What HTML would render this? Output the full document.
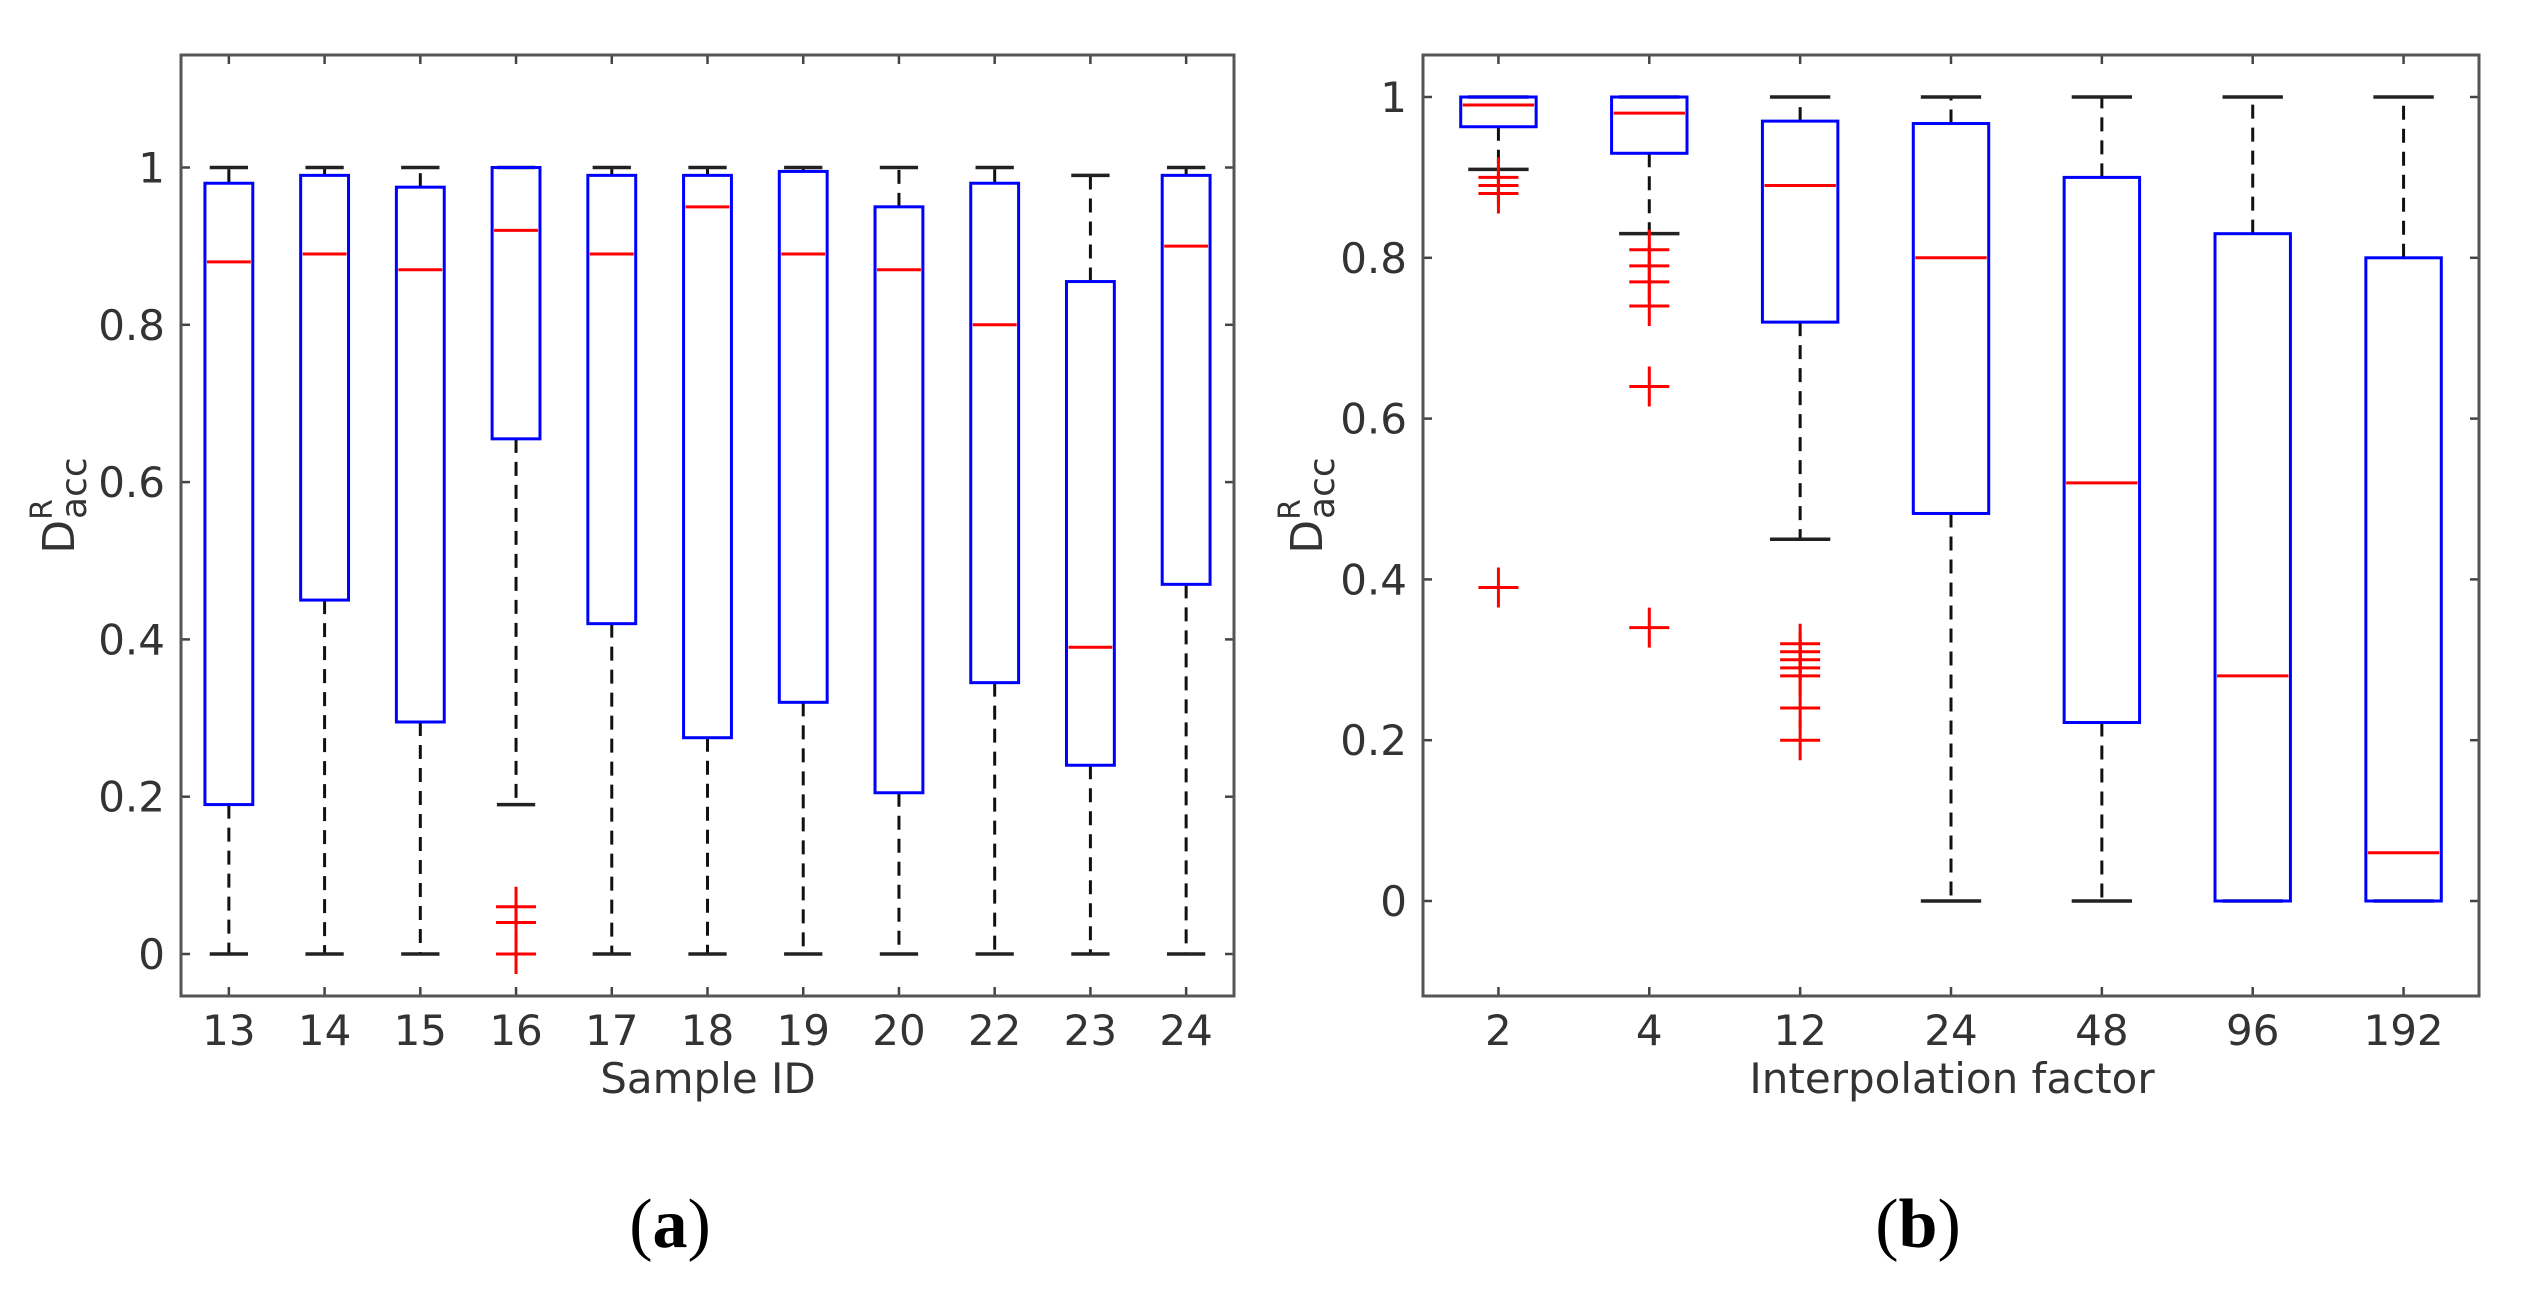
<!DOCTYPE html>
<html><head><meta charset="utf-8"><style>
html,body{margin:0;padding:0;background:#fff;}
svg{display:block;}
text{font-family:"DejaVu Sans","Liberation Sans",sans-serif;fill:#333;}
</style></head><body>
<svg id="fig" width="2524" height="1300" viewBox="0 0 2524 1300" xmlns="http://www.w3.org/2000/svg"></svg>
<script>
// ---- Panel (a) data ----
const catsA = ["13","14","15","16","17","18","19","20","22","23","24"];
const q1A   = [0.19,0.45,0.295,0.655,0.42,0.275,0.32,0.205,0.345,0.24,0.47];
const medA  = [0.88,0.89,0.87,0.92,0.89,0.95,0.89,0.87,0.80,0.39,0.90];
const q3A   = [0.98,0.99,0.975,1.0,0.99,0.99,0.995,0.95,0.98,0.855,0.99];
const loA   = [0,0,0,0.19,0,0,0,0,0,0,0];
const hiA   = [1,1,1,1,1,1,1,1,1,0.99,1];
const outA  = [[],[],[],[0.06,0.04,0],[],[],[],[],[],[],[]];
const yTicksA = [0,0.2,0.4,0.6,0.8,1];
const yTickLabelsA = ["0","0.2","0.4","0.6","0.8","1"];

// ---- Panel (b) data ----
const catsB = ["2","4","12","24","48","96","192"];
const q1B   = [0.963,0.93,0.72,0.482,0.222,0,0];
const medB  = [0.99,0.98,0.89,0.80,0.52,0.28,0.06];
const q3B   = [1.0,1.0,0.97,0.967,0.90,0.83,0.80];
const loB   = [0.91,0.83,0.45,0,0,0,0];
const hiB   = [1,1,1,1,1,1,1];
const outB  = [[0.90,0.89,0.88,0.39],[0.81,0.79,0.77,0.74,0.64,0.34],[0.32,0.31,0.30,0.29,0.28,0.24,0.20],[],[],[],[]];
const yTicksB = [0,0.2,0.4,0.6,0.8,1];
const yTickLabelsB = ["0","0.2","0.4","0.6","0.8","1"];

const NS="http://www.w3.org/2000/svg";
const svg=document.getElementById('fig');
function mk(tag,attrs,parent){const e=document.createElementNS(NS,tag);for(const k in attrs)e.setAttribute(k,attrs[k]);(parent||svg).appendChild(e);return e;}

function panel(cfg){
  const g=mk('g',{});
  
  
  const L=cfg.L,R=cfg.R,T=cfg.T,B=cfg.B;
  const n=cfg.cats.length, step=(R-L)/n;
  const xS=i=>L+step*(i+0.5);
  const yS=v=>cfg.y0+(cfg.y1-cfg.y0)*v;
  const bw=step*0.5;
  cfg.yt.forEach((v,i)=>{
    const y=yS(v);
    const t1=mk('line',{x1:L,x2:L+9,y1:y,y2:y,stroke:'#444','stroke-width':2.5},g);
    
    
    mk('line',{x1:R,x2:R-9,y1:y,y2:y,stroke:'#444','stroke-width':2.5},g);
    const tx=mk('text',{x:L-16,y:y+15,'text-anchor':'end','font-size':42},g);
    tx.textContent=cfg.ytl[i];
    
    
  });
  cfg.cats.forEach((c,i)=>{
    const x=xS(i);
    mk('line',{x1:x,x2:x,y1:B,y2:B-9,stroke:'#444','stroke-width':2.5},g);
    mk('line',{x1:x,x2:x,y1:T,y2:T+9,stroke:'#444','stroke-width':2.5},g);
    const tx=mk('text',{x:x,y:B+49,'text-anchor':'middle','font-size':42},g);
    tx.textContent=c;
    
    
    const w1=mk('line',{x1:x,x2:x,y1:yS(cfg.q3[i]),y2:yS(cfg.hi[i]),stroke:'#111','stroke-width':3,'stroke-dasharray':'14,9'},g);
    
    
    const w2=mk('line',{x1:x,x2:x,y1:yS(cfg.q1[i]),y2:yS(cfg.lo[i]),stroke:'#111','stroke-width':3,'stroke-dasharray':'14,9'},g);
    
    
    [cfg.hi[i],cfg.lo[i]].forEach(v=>{
      const cp=mk('line',{x1:x-bw*0.4,x2:x+bw*0.4,y1:yS(v),y2:yS(v),stroke:'#222','stroke-width':3.5},g);
      
      
    });
    const bx=mk('rect',{x:x-bw/2,y:yS(cfg.q3[i]),width:bw,height:Math.max(0,yS(cfg.q1[i])-yS(cfg.q3[i])),fill:'none',stroke:'#0000ff','stroke-width':3},g);
    
    
    const md=mk('line',{x1:x-bw/2+2,x2:x+bw/2-2,y1:yS(cfg.med[i]),y2:yS(cfg.med[i]),stroke:'#ff0000','stroke-width':3},g);
    
    
    cfg.out[i].forEach(v=>{
      const y=yS(v);
      const o=mk('path',{d:`M${x-20},${y}H${x+20}M${x},${y-20}V${y+20}`,stroke:'#ff0000','stroke-width':3,fill:'none'},g);
      
      
    });
  });
  const fr=mk('rect',{x:L,y:T,width:R-L,height:B-T,fill:'none',stroke:'#555','stroke-width':3},g);
  
  
  const xl=mk('text',{x:cfg.xlx,y:B+97,'text-anchor':'middle','font-size':42},g);
  xl.textContent=cfg.xlabel;
  
  
  const yl=mk('text',{transform:`translate(${cfg.ylx},${(T+B)/2-20}) rotate(-90)`,'text-anchor':'middle','font-size':44},g);
  
  
  yl.innerHTML='D<tspan dy="-22" font-size="30">R</tspan><tspan dx="-20" dy="34" font-size="36">acc</tspan>';
  const cap=mk('text',{x:cfg.capx,y:1247,'text-anchor':'middle','font-size':70},g);
  cap.style.fill='#000';
  cap.style.fontFamily='"Liberation Serif", serif';
  cap.innerHTML='(<tspan font-weight="bold">'+cfg.cap+'</tspan>)';
  
  
}

panel({name:'panel-a',L:181,R:1234,T:55,B:996,y0:954,y1:167.5,cats:catsA,q1:q1A,med:medA,q3:q3A,lo:loA,hi:hiA,out:outA,yt:yTicksA,ytl:yTickLabelsA,xlabel:'Sample ID',xlx:708,ylx:74,capx:670,cap:'a'});
panel({name:'panel-b',L:1423,R:2479,T:55,B:996,y0:901,y1:97,cats:catsB,q1:q1B,med:medB,q3:q3B,lo:loB,hi:hiB,out:outB,yt:yTicksB,ytl:yTickLabelsB,xlabel:'Interpolation factor',xlx:1952,ylx:1322,capx:1918,cap:'b'});
</script>
</body></html>
